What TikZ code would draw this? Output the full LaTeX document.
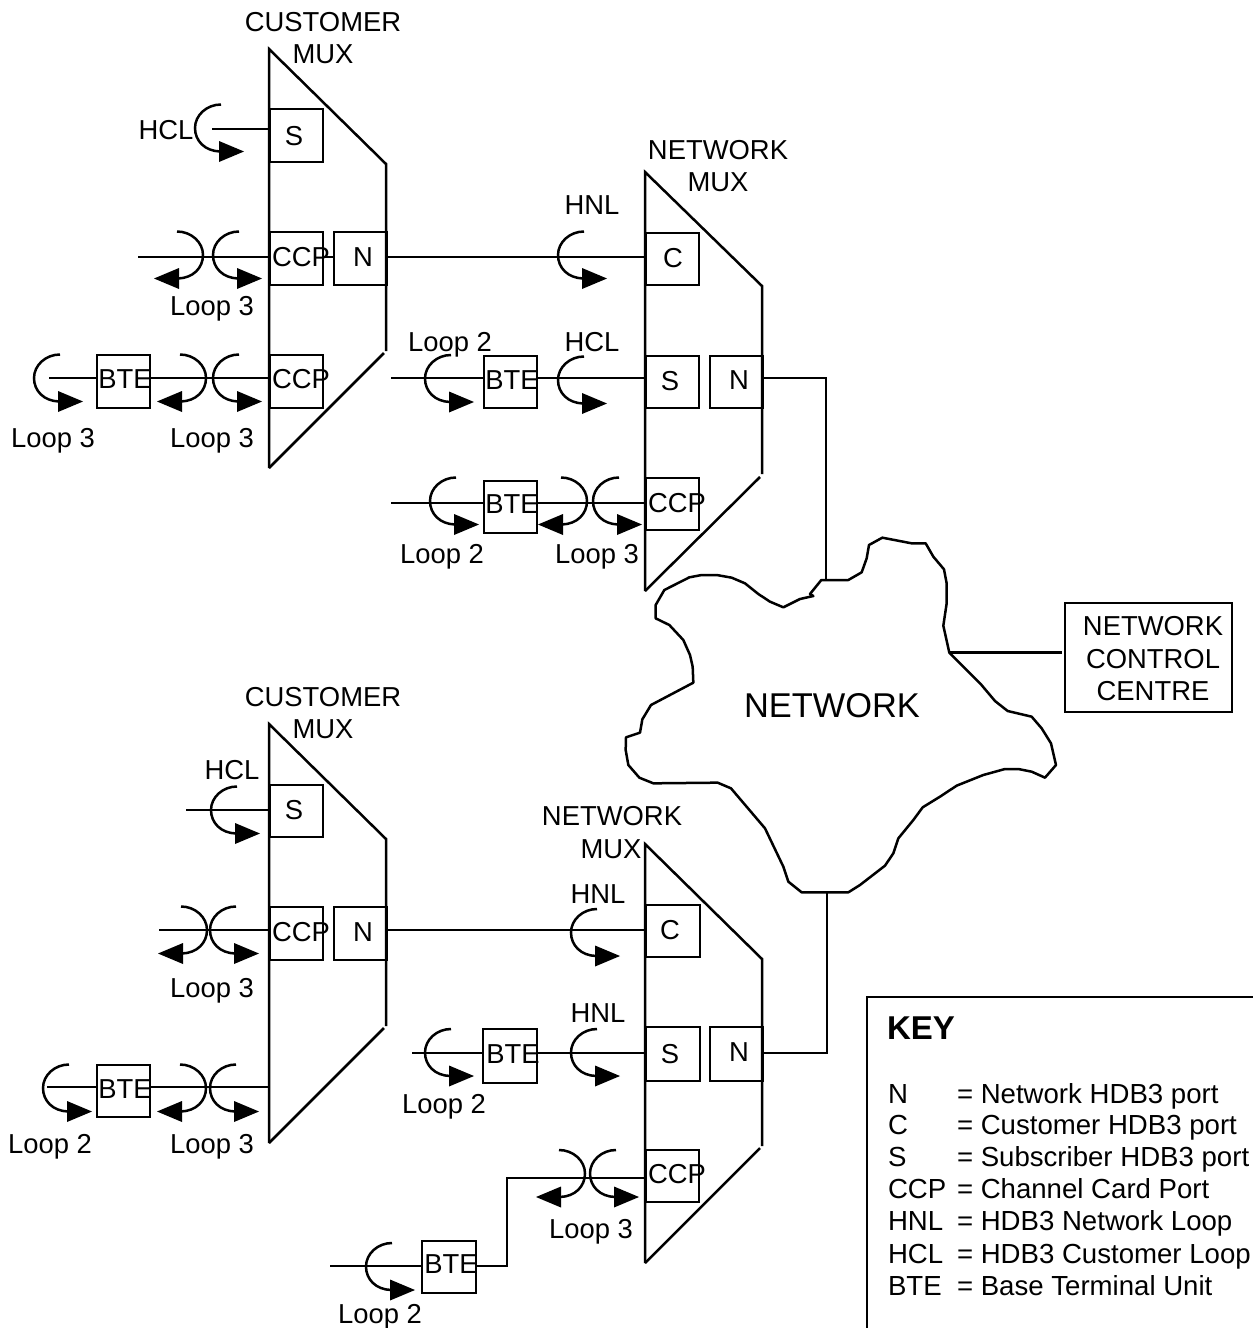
\documentclass[tikz,border=0pt]{standalone}
\usepackage{fontspec}
\setmainfont{Liberation Sans}
\tikzset{
  every path/.style={line width=2.5pt},
  txt/.style={inner sep=0pt,outer sep=0pt,anchor=base,font=\fontsize{27.4}{33}\selectfont},
  keytxt/.style={inner sep=0pt,outer sep=0pt,anchor=base west,font=\fontsize{27.6}{33}\selectfont},
  port/.style={draw,line width=2.5pt,inner sep=0pt,outer sep=0pt,rectangle,anchor=north west},
  hook/.style={draw,line width=2.5pt},
  headfill/.style={fill=black,draw=none},
}
% box given by its corners, with a separate text position: the reference's labels sit off centre
\newcommand{\portbox}[8]{%
  \node[port,minimum width={(#4-#2)*1pt},minimum height={(#5-#3)*1pt}] (#1) at (#2,#3) {};
  \node[txt] (#1-t) at (#7,#8) {#6};
}
% loop curve opening to the right, arrow pointing right
\newcommand{\hookL}[2]{%
  \begin{scope}[shift={(#1,#2)}]
    \path[hook] (26,-23.5) .. controls (12,-23.5) and (0,-13) .. (0,0) .. controls (0,13) and (10,23) .. (25,23.5);
    \path[headfill] (24,13) -- (49,23.5) -- (24,34) -- cycle;
  \end{scope}}
% loop curve opening to the left, arrow pointing left
\newcommand{\hookR}[2]{%
  \begin{scope}[shift={(#1,#2)}]
    \path[hook] (-26,-23.5) .. controls (-12,-23.5) and (0,-13) .. (0,0) .. controls (0,13) and (-10,23) .. (-25,23.5);
    \path[headfill] (-24,13) -- (-49,23.5) -- (-24,34) -- cycle;
  \end{scope}}
\begin{document}
\begin{tikzpicture}[x=1pt,y=-1pt]
\useasboundingbox (0,0) rectangle (1253,1328);
\fill[white] (0,0) rectangle (1253,1328);

%% ---- mux outlines
\draw (269,468) -- (269,49) -- (386,164) -- (386,351);
\draw (384,353) -- (269,468);
\draw (645,591) -- (645,172) -- (762,286) -- (762,474);
\draw (760,477) -- (645,591);
\draw (269,1143) -- (269,724) -- (386,839) -- (386,1026);
\draw (384,1028) -- (269,1143);
\draw (645,1263) -- (645,844) -- (762,959) -- (762,1146);
\draw (760,1148) -- (645,1263);

%% ---- mux titles
\node[txt] (cm1a) at (323,31) {CUSTOMER};
\node[txt] (cm1b) at (323,63) {MUX};
\node[txt] (nm1a) at (718,159) {NETWORK};
\node[txt] (nm1b) at (718,191) {MUX};
\node[txt] (cm2a) at (323,706) {CUSTOMER};
\node[txt] (cm2b) at (323,738) {MUX};
\node[txt] (nm2a) at (612,825) {NETWORK};
\node[txt] (nm2b) at (611,858) {MUX};

%% ---- customer mux 1
\portbox{aS}{270}{109}{323}{162}{S}{294}{145}
\portbox{aC}{270}{232}{323}{285}{CCP}{301}{266}
\portbox{aN}{334}{232}{387}{285}{N}{363}{266}
\portbox{aD}{270}{355}{323}{408}{CCP}{301}{388}
\portbox{aB}{97}{355}{150}{408}{BTE}{125}{388}
\coordinate (aS0) at (212,129);
\coordinate (aC0) at (138,257);
\coordinate (aB0) at (49,378);
\draw (aS0) -- (aS.west |- aS0);
\draw (aC0) -- (aC.west |- aC0);
\draw (aC.east |- aC0) -- (aN.west |- aC0);
\draw (aB0) -- (aB.west |- aB0);
\draw (aB.east |- aB0) -- (aD.west |- aB0);
\hookL{195}{128}
\hookR{203}{255} \hookL{213}{255}
\hookL{34}{378} \hookR{206}{378} \hookL{213}{378}
\node[txt] (la1) at (166,139.5) {HCL};
\node[txt] (la2) at (212,315) {Loop 3};
\node[txt] (la3) at (53,447) {Loop 3};
\node[txt] (la4) at (212,447) {Loop 3};

%% ---- network mux 1
\portbox{bC}{646}{233}{699}{285}{C}{673}{267}
\portbox{bS}{646}{356}{699}{408}{S}{670}{390}
\portbox{bN}{710}{356}{763}{408}{N}{739}{389}
\portbox{bD}{646}{478}{699}{530}{CCP}{677}{512}
\portbox{bB}{484}{356}{537}{408}{BTE}{512}{389}
\portbox{bE}{484}{481}{537}{533}{BTE}{512}{513}
\coordinate (bS0) at (391,378);
\coordinate (bD0) at (391,503);
\coordinate (nettop) at (826,580);
\coordinate (bNc) at (826,378);
\draw (aN.east |- aC0) -- (bC.west |- aC0);
\draw (bS0) -- (bB.west |- bS0);
\draw (bB.east |- bS0) -- (bS.west |- bS0);
\draw (bD0) -- (bE.west |- bD0);
\draw (bE.east |- bD0) -- (bD.west |- bD0);
\draw (bN.east |- bNc) -- (bNc) -- (nettop);
\hookL{558}{255}
\hookL{425}{378.5} \hookL{558}{380}
\hookL{430}{501} \hookR{587}{501} \hookL{593}{501}
\node[txt] (lb1) at (592,214) {HNL};
\node[txt] (lb2) at (450,351) {Loop 2};
\node[txt] (lb3) at (592,351) {HCL};
\node[txt] (lb4) at (442,563) {Loop 2};
\node[txt] (lb5) at (597,563) {Loop 3};

%% ---- customer mux 2
\portbox{cS}{270}{785}{323}{837}{S}{294}{819}
\portbox{cC}{270}{907}{323}{960}{CCP}{301}{941}
\portbox{cN}{334}{907}{387}{960}{N}{363}{941}
\portbox{cB}{97}{1065}{150}{1117}{BTE}{125}{1098}
\coordinate (cS0) at (186,810);
\coordinate (cC0) at (159,930);
\coordinate (cB0) at (47,1087);
\coordinate (cBe) at (269,1087);
\draw (cS0) -- (cS.west |- cS0);
\draw (cC0) -- (cC.west |- cC0);
\draw (cB0) -- (cB.west |- cB0);
\draw (cB.east |- cB0) -- (cBe);
\hookL{211}{810}
\hookR{207}{930} \hookL{210}{930}
\hookL{43}{1088} \hookR{206}{1088} \hookL{210}{1088}
\node[txt] (lc1) at (232,779) {HCL};
\node[txt] (lc2) at (212,997) {Loop 3};
\node[txt] (lc3) at (50,1153) {Loop 2};
\node[txt] (lc4) at (212,1153) {Loop 3};

%% ---- network mux 2
\portbox{dC}{646}{905}{700}{957}{C}{670}{939}
\portbox{dS}{646}{1027}{700}{1081}{S}{670}{1063}
\portbox{dN}{710}{1027}{763}{1081}{N}{739}{1061}
\portbox{dD}{646}{1150}{699}{1202}{CCP}{677}{1183}
\portbox{dB}{483}{1029}{537}{1083}{BTE}{513}{1063}
\portbox{dE}{422}{1241}{476}{1293}{BTE}{451}{1273}
\coordinate (dS0) at (412,1053);
\coordinate (dD0) at (507,1178);
\coordinate (dD1) at (507,1266);
\coordinate (dE0) at (330,1266);
\coordinate (netbot) at (827,893);
\coordinate (dNc) at (827,1053);
\draw (cN.east |- cC0) -- (dC.west |- cC0);
\draw (dS0) -- (dB.west |- dS0);
\draw (dB.east |- dS0) -- (dS.west |- dS0);
\draw (dD.west |- dD0) -- (dD0) -- (dD1) -- (dE.east |- dD1);
\draw (dE0) -- (dE.west |- dE0);
\draw (dN.east |- dNc) -- (dNc) -- (netbot);
\hookL{571}{932.5}
\hookL{425}{1052.5} \hookL{571}{1052.5}
\hookR{585}{1173.5} \hookL{590}{1173.5}
\hookL{366}{1266.5}
\node[txt] (ld1) at (598,903) {HNL};
\node[txt] (ld2) at (598,1022) {HNL};
\node[txt] (ld3) at (444,1113) {Loop 2};
\node[txt] (ld4) at (591,1238) {Loop 3};
\node[txt] (ld5) at (380,1323) {Loop 2};

%% ---- network cloud
\begin{scope}[shift={(620,520)},x=0.33333pt,y=-0.33333pt,line join=round]
\draw (604,180) -- (685,180) -- (725,157) -- (740,115) -- (747,75) -- (787,53) -- (875,70) -- (917,70)
  -- (940,110) -- (972,148) -- (980,190) -- (980,250) -- (970,317) -- (988,398) -- (1082,492)
  -- (1125,543) -- (1163,573) -- (1235,590) -- (1265,625) -- (1293,670) -- (1308,735) -- (1275,773)
  -- (1235,755) -- (1195,747) -- (1155,747) -- (1090,765) -- (1010,797) -- (960,830) -- (908,862)
  -- (880,900) -- (835,955) -- (820,1000) -- (795,1037) -- (720,1095) -- (685,1117) -- (545,1117)
  -- (505,1085) -- (490,1040) -- (435,925) -- (333,805) -- (293,788) -- (100,790) -- (58,773)
  -- (25,735) -- (17,690) -- (18,652) -- (60,638) -- (67,598) -- (93,555) -- (220,488) -- (218,440)
  -- (210,405) -- (190,360) -- (148,315) -- (107,295) -- (107,255) -- (133,210) -- (208,172)
  -- (245,165) -- (290,165) -- (335,173) -- (375,190) -- (415,222) -- (450,245) -- (490,262)
  -- (540,237) -- (580,228) -- (570,222) -- cycle;
\end{scope}
\node[txt,font=\fontsize{34.4}{40}\selectfont] (net) at (832,717) {NETWORK};

%% ---- network control centre
\node[port,minimum width=167pt,minimum height=109pt] (ncc) at (1065,603) {};
\node[txt,anchor=base] (ncc1) at (1153,635.5) {NETWORK};
\node[txt,anchor=base] (ncc2) at (1153,668) {CONTROL};
\node[txt,anchor=base] (ncc3) at (1153,700.5) {CENTRE};
\coordinate (netright) at (949,652.5);
\draw[shorten >=3pt] (netright) -- (ncc.west |- netright);

%% ---- key
\draw (1253,997) -- (867,997) -- (867,1328);
\node[txt,anchor=base west,font=\fontsize{33}{38}\bfseries\selectfont] (key) at (887,1039) {KEY};
\node[keytxt] (k1) at (888,1103) {N};
\node[keytxt] (k1b) at (957,1103) {= Network HDB3 port};
\node[keytxt] (k2) at (888,1134) {C};
\node[keytxt] (k2b) at (957,1134) {= Customer HDB3 port};
\node[keytxt] (k3) at (888,1166) {S};
\node[keytxt] (k3b) at (957,1166) {= Subscriber HDB3 port};
\node[keytxt] (k4) at (888,1198) {CCP};
\node[keytxt] (k4b) at (957,1198) {= Channel Card Port};
\node[keytxt] (k5) at (888,1230) {HNL};
\node[keytxt] (k5b) at (957,1230) {= HDB3 Network Loop};
\node[keytxt] (k6) at (888,1263) {HCL};
\node[keytxt] (k6b) at (957,1263) {= HDB3 Customer Loop};
\node[keytxt] (k7) at (888,1295) {BTE};
\node[keytxt] (k7b) at (957,1295) {= Base Terminal Unit};
\end{tikzpicture}
\end{document}
